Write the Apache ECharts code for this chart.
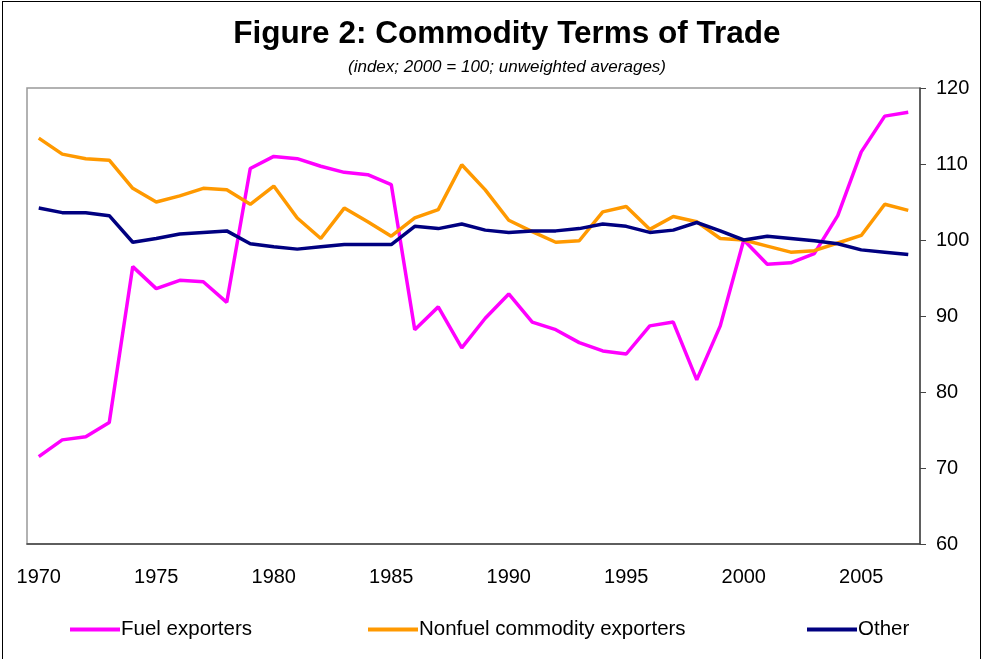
<!DOCTYPE html>
<html>
<head>
<meta charset="utf-8">
<script src="https://cdn.jsdelivr.net/npm/echarts@6/dist/echarts.min.js"></script>
<style>
  html, body { margin: 0; padding: 0; background: #fff; }
  #frame {
    position: absolute; left: 2px; top: 1px; width: 979px; height: 700px;
    border: 1.5px solid #000; box-sizing: border-box;
  }
  #main { position: absolute; left: 0; top: 0; width: 984px; height: 659px; }
</style>
</head>
<body>
<div id="frame"></div>
<div id="main"></div>
<script>
// years 1970..2007
var years = [];
for (var y = 1970; y <= 2007; y++) years.push(String(y));

var fuelExporters = [71.5, 73.7, 74.1, 76.0, 96.5, 93.6, 94.7, 94.5, 91.8, 109.4,
  111.0, 110.7, 109.7, 108.9, 108.6, 107.3, 88.2, 91.2, 85.8, 89.7,
  92.9, 89.2, 88.2, 86.5, 85.4, 85.0, 88.7, 89.2, 81.6, 88.7,
  100.0, 96.8, 97.0, 98.2, 103.2, 111.6, 116.3, 116.8];

var nonfuelExporters = [113.4, 111.3, 110.7, 110.5, 106.8, 105.0, 105.8, 106.8, 106.6, 104.7,
  107.1, 102.9, 100.2, 104.2, 102.4, 100.5, 102.9, 104.0, 109.9, 106.6,
  102.6, 101.1, 99.7, 99.9, 103.7, 104.4, 101.4, 103.1, 102.4, 100.2,
  100.0, 99.2, 98.4, 98.6, 99.6, 100.6, 104.7, 103.9];

var other = [104.2, 103.6, 103.6, 103.2, 99.7, 100.2, 100.8, 101.0, 101.2, 99.5,
  99.1, 98.8, 99.1, 99.4, 99.4, 99.4, 101.8, 101.5, 102.1, 101.3,
  101.0, 101.2, 101.2, 101.5, 102.1, 101.8, 101.0, 101.3, 102.3, 101.2,
  100.0, 100.5, 100.2, 99.9, 99.5, 98.7, 98.4, 98.1];

var chart = echarts.init(document.getElementById("main"));
var font = "Liberation Sans, Arial, sans-serif";

// one legend per item so each sits where it does in the figure
function legendAt(name, left) {
  return {
    top: 614,
    left: left,
    itemWidth: 50,
    itemHeight: 4,
    itemGap: 0,
    icon: "rect",
    textStyle: { fontSize: 20.5, color: "#000", fontFamily: font, padding: [0, 0, 0, -4] },
    data: [name]
  };
}

chart.setOption({
  animation: false,
  textStyle: { fontFamily: font },
  title: {
    text: "Figure 2: Commodity Terms of Trade",
    subtext: "(index; 2000 = 100; unweighted averages)",
    left: 502,
    textAlign: "center",
    top: 13,
    itemGap: 9,
    textStyle: { fontSize: 31.5, fontWeight: "bold", color: "#000", fontFamily: font },
    subtextStyle: { fontSize: 17, fontStyle: "italic", color: "#000", fontFamily: font }
  },
  legend: [
    legendAt("Fuel exporters", 65),
    legendAt("Nonfuel commodity exporters", 363),
    legendAt("Other", 802)
  ],
  grid: {
    left: 27, top: 88, right: 64, bottom: 115,
    show: true, borderColor: "#999", borderWidth: 1.5
  },
  xAxis: {
    type: "category",
    data: years,
    boundaryGap: true,
    axisLine: { lineStyle: { color: "#444", width: 1.5 } },
    axisTick: { interval: 0, length: 6, lineStyle: { color: "#444" } },
    axisLabel: { interval: 4, fontSize: 20, color: "#000", margin: 23 },
    splitLine: { show: false }
  },
  yAxis: {
    type: "value",
    position: "right",
    min: 60, max: 120, interval: 10,
    axisLine: { show: true, lineStyle: { color: "#444", width: 1.5 } },
    axisTick: { show: true, length: 6, lineStyle: { color: "#444" } },
    axisLabel: { fontSize: 20, color: "#000", margin: 16 },
    splitLine: { show: false }
  },
  series: [
    {
      name: "Fuel exporters", type: "line", data: fuelExporters,
      symbol: "none", color: "#ff00ff", lineStyle: { width: 3.5 }
    },
    {
      name: "Nonfuel commodity exporters", type: "line", data: nonfuelExporters,
      symbol: "none", color: "#ff9900", lineStyle: { width: 3.5 }
    },
    {
      name: "Other", type: "line", data: other,
      symbol: "none", color: "#000080", lineStyle: { width: 3.5 }
    }
  ]
});
</script>
</body>
</html>
